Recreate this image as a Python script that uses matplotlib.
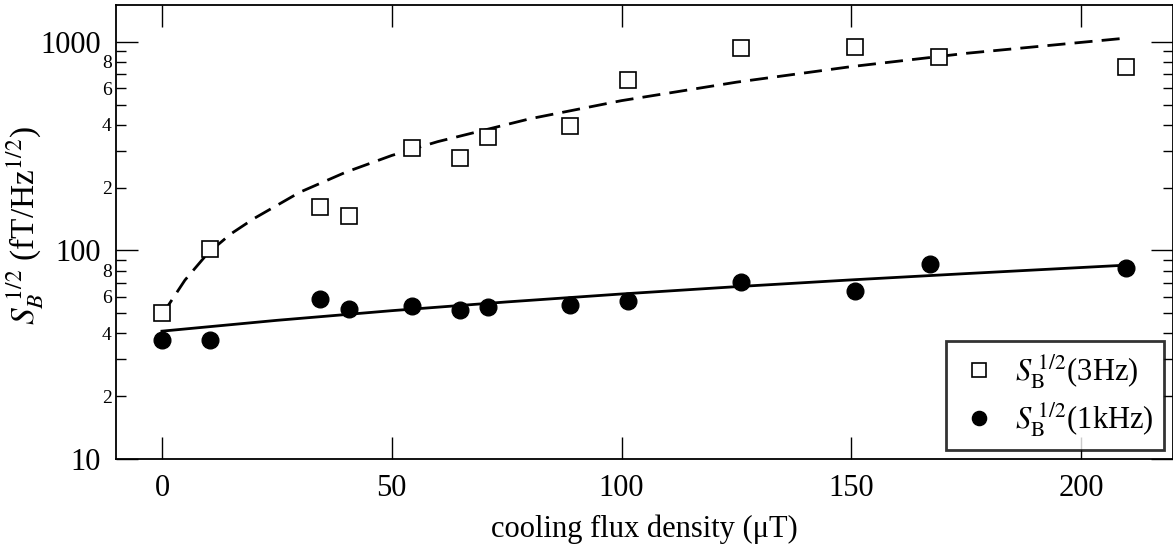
import matplotlib
matplotlib.use("Agg")
import matplotlib.pyplot as plt
from matplotlib.ticker import FixedLocator, FuncFormatter
import numpy as np

plt.rcParams['font.family'] = ['Liberation Serif', 'DejaVu Serif']
plt.rcParams['mathtext.fontset'] = 'stix'

# measured points
flux = [0, 10.4, 34.3, 40.7, 54.3, 64.8, 70.9, 88.7, 101.5, 125.9, 150.7, 169.1, 209.7]
sb_3hz = [50, 102, 162, 146, 309, 276, 349, 395, 656, 935, 946, 843, 758]
flux_1k = [0, 10.4, 34.3, 40.7, 54.3, 64.8, 70.9, 88.7, 101.5, 125.9, 150.7, 167.2, 209.7]
sb_1khz = [37.3, 37.3, 58.6, 52.6, 54.4, 52.0, 53.7, 55.0, 57.5, 70.5, 63.7, 86.3, 82.6]

# fit lines
fit3_x = [0, 5, 10, 15, 20, 30, 40, 50, 60, 80, 100, 125, 150, 175, 210]
fit3_y = [49, 72, 97, 120, 142, 190, 237, 285, 332, 427, 522, 640, 760, 880, 1042]
fit1_x = [0, 25, 50, 75, 100, 125, 150, 175, 210]
fit1_y = [41, 46.2, 51.4, 56.6, 61.8, 67.0, 72.2, 77.4, 85]

fig = plt.figure(figsize=(11.73, 5.5), dpi=100)
ax = fig.add_axes([116/1173, 91/550, 1057/1173, 454/550])

ax.plot(fit3_x, fit3_y, 'k--', lw=2, dashes=(6.5, 3.3))
ax.plot(fit1_x, fit1_y, 'k-', lw=2)
ax.plot(flux, sb_3hz, 's', ms=12, mfc='white', mec='black', mew=1.2, ls='none',
        label=r'$S_{\mathrm{B}}^{\;1/2}$(3Hz)')
ax.plot(flux_1k, sb_1khz, 'o', ms=12, color='black', ls='none',
        label=r'$S_{\mathrm{B}}^{\;1/2}$(1kHz)')

ax.set_yscale('log')
ax.set_xlim(-10, 220)
ax.set_ylim(10, 1500)

ax.set_xticks([0, 50, 100, 150, 200])
ax.yaxis.set_major_locator(FixedLocator([10, 100, 1000]))
ax.yaxis.set_major_formatter(FuncFormatter(lambda v, p: '%d' % v))
minors = [m * d for d in (10, 100, 1000) for m in range(2, 10)]
ax.yaxis.set_minor_locator(FixedLocator(minors))

def minor_label(v, p):
    m = int(round(v / 10 ** np.floor(np.log10(v) + 1e-9)))
    return str(m) if m in (2, 4, 6, 8) else ''

ax.yaxis.set_minor_formatter(FuncFormatter(minor_label))

ax.tick_params(axis='x', which='major', direction='in', length=16, width=1,
               top=True, labelsize=22, pad=11)
ax.tick_params(axis='x', which='minor', bottom=False, top=False)
ax.tick_params(axis='y', which='major', direction='in', length=16, width=1,
               right=True, labelsize=22, pad=11)
ax.tick_params(axis='y', which='minor', direction='in', length=7, width=1,
               right=True, labelsize=14, pad=3)
for s in ax.spines.values():
    s.set_linewidth(1.3)

ax.set_xlabel('cooling flux density (\u03bcT)', fontsize=22, labelpad=8)
ax.set_ylabel(r'$S_B^{\;1/2}$ (fT/Hz$^{1/2}$)', fontsize=24)
ax.yaxis.set_label_coords(-0.066, 0.515)

leg = ax.legend(loc='lower right', fontsize=22, frameon=True, fancybox=False,
                edgecolor='black', handlelength=1.5, handletextpad=0.4,
                borderaxespad=0.3, borderpad=0.35, markerscale=0.85,
                labelspacing=0.3)
leg.get_frame().set_linewidth(2)

fig.savefig('out.png', dpi=100)
